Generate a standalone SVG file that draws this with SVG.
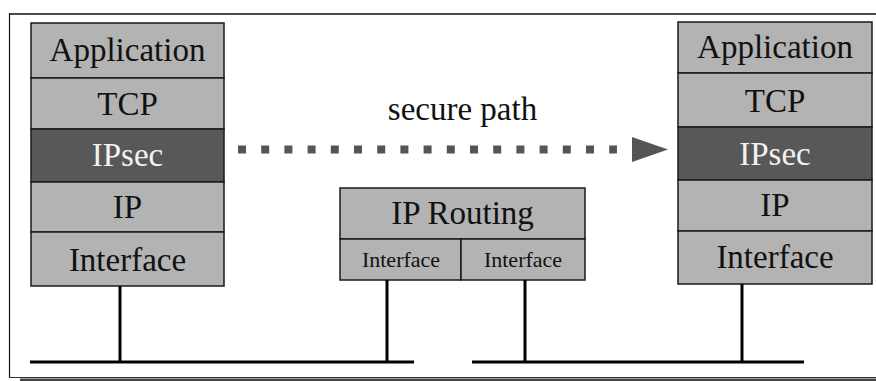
<svg xmlns="http://www.w3.org/2000/svg" width="876" height="381" viewBox="0 0 876 381">
<style>
.cell{fill:#b3b3b3;stroke:#1a1a1a;stroke-width:1.5}
.dark{fill:#585858;stroke:#1a1a1a;stroke-width:1.5}
text{font-family:'Liberation Serif','Times New Roman',Times,serif;font-size:33px;fill:#111;text-anchor:middle}
.tw{fill:#f2f2f2}
.ts{font-size:22px}
.wire{stroke:#000;stroke-width:3;fill:none}
</style>
<rect width="876" height="381" fill="#fff"/>
<g id="frame">
<line x1="9" y1="14" x2="876" y2="14" stroke="#4a4a4a" stroke-width="2.2"/>
<line x1="9.5" y1="13" x2="9.5" y2="378" stroke="#111" stroke-width="1.2"/>
<line x1="9" y1="377.5" x2="876" y2="377.5" stroke="#333" stroke-width="1.2"/>
<rect x="20" y="378.5" width="856" height="2.5" fill="#454545"/>
</g>
<g id="left-stack">
<rect class="cell" x="31" y="23" width="193" height="55"/>
<rect class="cell" x="31" y="78" width="193" height="51"/>
<rect class="dark" x="31" y="129" width="193" height="53"/>
<rect class="cell" x="31" y="182" width="193" height="50"/>
<rect class="cell" x="31" y="232" width="193" height="54"/>
<text font-family="Liberation Serif, serif" x="127.5" y="61">Application</text>
<text font-family="Liberation Serif, serif" x="127.5" y="115">TCP</text>
<text font-family="Liberation Serif, serif" class="tw" x="127.5" y="166">IPsec</text>
<text font-family="Liberation Serif, serif" x="127.5" y="218">IP</text>
<text font-family="Liberation Serif, serif" x="127.5" y="271">Interface</text>
</g>
<g id="router">
<rect class="cell" x="340" y="188" width="245" height="51"/>
<rect class="cell" x="340" y="239" width="121" height="41"/>
<rect class="cell" x="461" y="239" width="124" height="41"/>
<text font-family="Liberation Serif, serif" x="462.5" y="224">IP Routing</text>
<text font-family="Liberation Serif, serif" class="ts" x="401" y="267">Interface</text>
<text font-family="Liberation Serif, serif" class="ts" x="523" y="267">Interface</text>
</g>
<g id="right-stack">
<rect class="cell" x="678" y="22" width="194" height="51"/>
<rect class="cell" x="678" y="73" width="194" height="54"/>
<rect class="dark" x="678" y="127" width="194" height="53"/>
<rect class="cell" x="678" y="180" width="194" height="51"/>
<rect class="cell" x="678" y="231" width="194" height="53"/>
<text font-family="Liberation Serif, serif" x="775" y="58">Application</text>
<text font-family="Liberation Serif, serif" x="775" y="112">TCP</text>
<text font-family="Liberation Serif, serif" class="tw" x="775" y="165">IPsec</text>
<text font-family="Liberation Serif, serif" x="775" y="216">IP</text>
<text font-family="Liberation Serif, serif" x="775" y="268">Interface</text>
</g>
<g id="label">
<text font-family="Liberation Serif, serif" x="462.5" y="120">secure path</text>
</g>
<g id="connectors">
<line class="wire" x1="30" y1="362" x2="414" y2="362"/>
<line class="wire" x1="472" y1="362" x2="804" y2="362"/>
<line class="wire" x1="120" y1="286" x2="120" y2="362"/>
<line class="wire" x1="387" y1="280" x2="387" y2="362"/>
<line class="wire" x1="525" y1="280" x2="525" y2="362"/>
<line class="wire" x1="742" y1="284" x2="742" y2="362"/>
<line x1="238" y1="149.5" x2="617" y2="149.5" stroke="#555" stroke-width="8" stroke-dasharray="8 15.2"/>
<polygon points="632,137 668,149.5 632,162" fill="#555"/>
</g>
</svg>
